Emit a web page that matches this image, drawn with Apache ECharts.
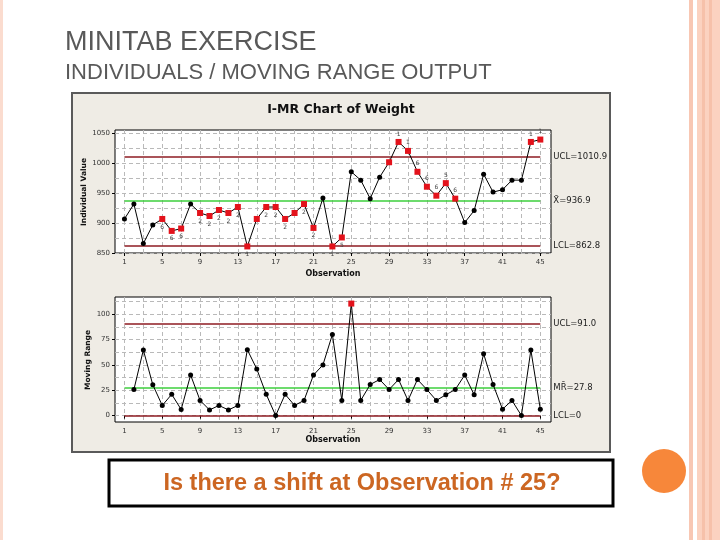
<!DOCTYPE html>
<html>
<head>
<meta charset="utf-8">
<script src="https://cdn.jsdelivr.net/npm/echarts@6/dist/echarts.min.js"></script>
<style>
  html, body { margin: 0; padding: 0; background: #fff; }
  #chart { width: 720px; height: 540px; }
</style>
</head>
<body>
<div id="chart"></div>
<script>
// observation numbers 1..45
const observations = Array.from({ length: 45 }, (_, i) => i + 1)

// individual values
const individualValues = [
  907, 932, 866, 897, 907, 887, 891, 932, 917, 912,
  922, 917, 927, 861, 907, 927, 927, 907, 917, 932,
  892, 942, 861, 876, 986, 972, 941, 977, 1002, 1036,
  1021, 986, 961, 946, 967, 941, 901, 921, 982, 952,
  956, 972, 972, 1036, 1040,
]
// failed-test flags on the I chart ('' = none), and which points are red
const individualTests = [
  '', '', '', '', '6', '6', '6', '', '2', '2',
  '2', '2', '2', '1', '', '2', '2', '2', '', '2',
  '2', '', '1', '5', '', '', '', '', '', '1',
  '1', '6', '6', '6', '5', '6', '', '', '', '',
  '', '', '', '1', '1',
]
const individualRed = [
  0, 0, 0, 0, 1, 1, 1, 0, 1, 1,
  1, 1, 1, 1, 1, 1, 1, 1, 1, 1,
  1, 0, 1, 1, 0, 0, 0, 0, 1, 1,
  1, 1, 1, 1, 1, 1, 0, 0, 0, 0,
  0, 0, 0, 1, 1,
]

// moving ranges (first observation has none)
const movingRanges = [
  null, 25.7, 64.7, 30.4, 10, 21, 6, 40, 15, 5.6,
  10, 5.6, 10, 65, 46, 21, 0, 21, 10, 15,
  40, 50, 80, 15, 110.5, 15, 30.7, 35.6, 25.7, 35.6,
  15, 35.6, 25.7, 15, 20.5, 25.7, 40, 20.5, 61, 30.7,
  6.3, 15, 0, 64.7, 6.3,
]
const movingRangeRed = observations.map((o) => (o === 25 ? 1 : 0))

// control limits
const iLimitValues = [1010.9, 936.9, 862.8]
const iLimitLabels = ['UCL=1010.9', 'X\u0304=936.9', 'LCL=862.8']
const mrLimitValues = [91.0, 27.8, 0]
const mrLimitLabels = ['UCL=91.0', 'MR\u0304=27.8', 'LCL=0']
const limitColors = ['#8e1b22', '#3ccf3c', '#8e1b22']

// ticks and grid lines
const obsTickLabels = [1, 5, 9, 13, 17, 21, 25, 29, 33, 37, 41, 45]
const obsGridValues = [1, 3, 5, 7, 9, 11, 13, 15, 17, 19, 21, 23, 25, 27, 29, 31, 33, 35, 37, 39, 41, 43, 45]
const iTickLabels = [850, 900, 950, 1000, 1050]
const iGridValues = [850, 875, 900, 925, 950, 975, 1000, 1025, 1050]
const mrTickLabels = [0, 25, 50, 75, 100]
const mrGridValues = [0, 12.5, 25, 37.5, 50, 62.5, 75, 87.5, 100, 112.5]

const FONT = 'DejaVu Sans'
const dash = { type: [4, 3], color: '#b9b9b9', width: 1 }

function xAxes(grid) {
  return [
    {
      gridIndex: grid, type: 'value', position: 'bottom', min: 0, max: 46.13,
      axisLine: { show: false },
      axisTick: { show: false, customValues: obsGridValues },
      splitLine: { show: true, lineStyle: dash },
      axisLabel: { customValues: obsTickLabels, fontFamily: FONT, fontSize: 7, color: '#333', margin: 6 },
    },
    {
      gridIndex: grid, type: 'value', position: 'bottom', min: 0, max: 46.13,
      axisLine: { show: false },
      axisTick: { show: true, customValues: obsTickLabels, length: 3, lineStyle: { color: '#000' } },
      splitLine: { show: false },
      axisLabel: { show: false },
    },
  ]
}

function yAxes(grid, min, max, gridVals, labelVals) {
  return [
    {
      gridIndex: grid, type: 'value', position: 'left', min, max,
      axisLine: { show: false },
      axisTick: { show: false, customValues: gridVals },
      splitLine: { show: true, lineStyle: dash },
      axisLabel: {
        customValues: labelVals, formatter: (v) => String(v),
        fontFamily: FONT, fontSize: 7, color: '#333', margin: 5,
      },
    },
    {
      gridIndex: grid, type: 'value', position: 'left', min, max,
      axisLine: { show: false },
      axisTick: { show: true, customValues: labelVals, length: 3, lineStyle: { color: '#000' } },
      splitLine: { show: false },
      axisLabel: { show: false },
    },
  ]
}

function limitLines(values, labels) {
  return {
    silent: true,
    symbol: 'none',
    animation: false,
    data: values.map((v, i) => [
      {
        coord: [1, v],
        lineStyle: { color: limitColors[i], width: 1.5, type: 'solid' },
        label: { formatter: labels[i] },
      },
      { coord: [45, v] },
    ]),
    label: { show: true, position: 'end', distance: 13, fontFamily: FONT, fontSize: 8.5, color: '#222' },
  }
}

const individualData = observations.map((o, i) => {
  const red = individualRed[i] === 1
  const test = individualTests[i]
  return {
    value: [o, individualValues[i]],
    symbol: red ? 'rect' : 'circle',
    symbolSize: red ? 6 : 5,
    itemStyle: { color: red ? '#e3121b' : '#000' },
    label: {
      show: test !== '',
      formatter: test,
      position: individualValues[i] > iLimitValues[1] ? 'top' : 'bottom',
      distance: 2,
      fontFamily: FONT,
      fontSize: 6,
      color: '#444',
    },
  }
})

const movingRangeData = observations
  .map((o, i) => ({ o, v: movingRanges[i], red: movingRangeRed[i] === 1 }))
  .filter((d) => d.v !== null)
  .map((d) => ({
    value: [d.o, d.v],
    symbol: d.red ? 'rect' : 'circle',
    symbolSize: d.red ? 6 : 5,
    itemStyle: { color: d.red ? '#e3121b' : '#000' },
  }))

const chart = echarts.init(document.getElementById('chart'))

chart.setOption({
  animation: false,
  backgroundColor: '#fff',
  grid: [
    { left: 115, top: 130, width: 436, height: 123, show: true, backgroundColor: '#fff', borderColor: '#000', borderWidth: 1 },
    { left: 115, top: 297, width: 436, height: 125, show: true, backgroundColor: '#fff', borderColor: '#000', borderWidth: 1 },
  ],
  xAxis: [...xAxes(0), ...xAxes(1)],
  yAxis: [
    ...yAxes(0, 850, 1056, iGridValues, iTickLabels),
    ...yAxes(1, -6.3, 117, mrGridValues, mrTickLabels),
  ],
  series: [
    {
      name: 'Individual Value',
      type: 'line',
      xAxisIndex: 0,
      yAxisIndex: 0,
      data: individualData,
      lineStyle: { color: '#000', width: 1 },
      markLine: limitLines(iLimitValues, iLimitLabels),
      z: 5,
    },
    {
      name: 'Moving Range',
      type: 'line',
      xAxisIndex: 2,
      yAxisIndex: 2,
      data: movingRangeData,
      lineStyle: { color: '#000', width: 1 },
      markLine: limitLines(mrLimitValues, mrLimitLabels),
      z: 5,
    },
  ],
  graphic: [
    // slide decoration
    { type: 'rect', shape: { x: 0, y: 0, width: 3, height: 540 }, style: { fill: '#fbdccf' }, z: -20 },
    { type: 'rect', shape: { x: 689, y: 0, width: 4, height: 540 }, style: { fill: '#f8c7b3' }, z: -20 },
    { type: 'rect', shape: { x: 697, y: 0, width: 23, height: 540 }, style: { fill: '#fbd2c0' }, z: -20 },
    { type: 'rect', shape: { x: 702, y: 0, width: 3, height: 540 }, style: { fill: '#f6c1aa' }, z: -19 },
    { type: 'rect', shape: { x: 709, y: 0, width: 3, height: 540 }, style: { fill: '#f6c1aa' }, z: -19 },
    { type: 'circle', shape: { cx: 664, cy: 471, r: 22 }, style: { fill: '#f7873a' }, z: -19 },
    {
      type: 'text', x: 65, y: 43,
      style: { text: 'MINITAB EXERCISE', font: '27px "Liberation Sans", Arial', fill: '#595959', verticalAlign: 'middle' },
    },
    {
      type: 'text', x: 65, y: 72.5,
      style: { text: 'INDIVIDUALS / MOVING RANGE OUTPUT', font: '22px "Liberation Sans", Arial', fill: '#595959', verticalAlign: 'middle' },
    },
    // Minitab panel
    {
      type: 'rect', shape: { x: 72, y: 93, width: 538, height: 359 },
      style: { fill: '#efece5', stroke: '#5a5a5a', lineWidth: 2 }, z: -10,
    },
    {
      type: 'text', x: 341, y: 110,
      style: { text: 'I-MR Chart of Weight', font: 'bold 12.5px "DejaVu Sans"', fill: '#111', align: 'center', verticalAlign: 'middle' },
    },
    {
      type: 'text', x: 84, y: 192, rotation: Math.PI / 2,
      style: { text: 'Individual Value', font: 'bold 7.5px "DejaVu Sans"', fill: '#111', align: 'center', verticalAlign: 'middle' },
    },
    {
      type: 'text', x: 88, y: 360, rotation: Math.PI / 2,
      style: { text: 'Moving Range', font: 'bold 7.5px "DejaVu Sans"', fill: '#111', align: 'center', verticalAlign: 'middle' },
    },
    {
      type: 'text', x: 333, y: 274,
      style: { text: 'Observation', font: 'bold 8px "DejaVu Sans"', fill: '#111', align: 'center', verticalAlign: 'middle' },
    },
    {
      type: 'text', x: 333, y: 440,
      style: { text: 'Observation', font: 'bold 8px "DejaVu Sans"', fill: '#111', align: 'center', verticalAlign: 'middle' },
    },
    // question box
    {
      type: 'rect', shape: { x: 109, y: 460, width: 504, height: 46 },
      style: { fill: '#fff', stroke: '#000', lineWidth: 3 },
    },
    {
      type: 'text', x: 362, y: 484,
      style: { text: 'Is there a shift at Observation # 25?', font: 'bold 23.5px "Liberation Sans", Arial', fill: '#cc6622', align: 'center', verticalAlign: 'middle' },
    },
  ],
})
</script>
</body>
</html>
